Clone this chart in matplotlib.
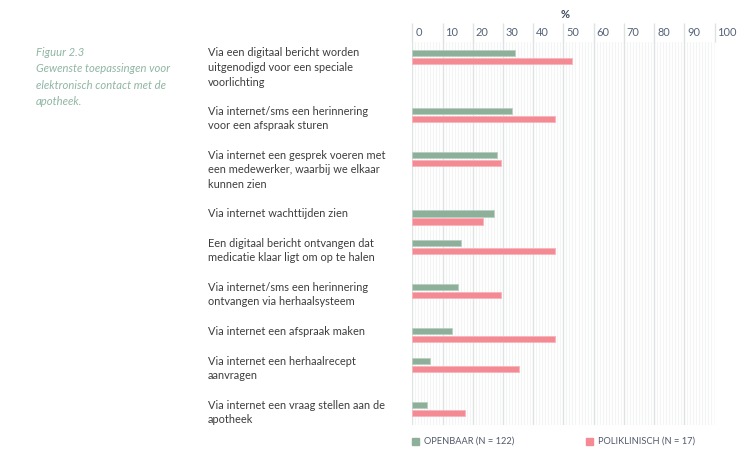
import matplotlib
matplotlib.use("Agg")
import matplotlib.pyplot as plt
from matplotlib.patches import Rectangle
from matplotlib import transforms
import numpy as np

# data
labels = [
    "Via een digitaal bericht worden\nuitgenodigd voor een speciale\nvoorlichting",
    "Via internet/sms een herinnering\nvoor een afspraak sturen",
    "Via internet een gesprek voeren met\neen medewerker, waarbij we elkaar\nkunnen zien",
    "Via internet wachttijden zien",
    "Een digitaal bericht ontvangen dat\nmedicatie klaar ligt om op te halen",
    "Via internet/sms een herinnering\nontvangen via herhaalsysteem",
    "Via internet een afspraak maken",
    "Via internet een herhaalrecept\naanvragen",
    "Via internet een vraag stellen aan de\napotheek",
]
openbaar = [34, 33, 28, 27, 16, 15, 13, 6, 5]
poliklinisch = [52.9, 47.1, 29.4, 23.5, 47.1, 29.4, 47.1, 35.3, 17.6]
ticks = list(range(0, 101, 10))
caption = "Figuur 2.3\nGewenste toepassingen voor\nelektronisch contact met de\napotheek."
legend_labels = ["OPENBAAR (N = 122)", "POLIKLINISCH (N = 17)"]

GREEN = "#8eb09a"
PINK = "#f48a94"
TEXT = "#3d3d3d"
TICK = "#55627a"
MAJOR = "#dfe2e2"
MINOR = "#f3f4f4"

W, H = 752, 462
fig = plt.figure(figsize=(W / 100, H / 100), dpi=100)
plt.rcParams["font.family"] = ["Lato", "DejaVu Sans"]

def fx(px):
    return px / W

def fy(py):
    return 1 - py / H

ax_left, ax_right, ax_top, ax_bot = 412.3, 714.5, 42, 425
ax = fig.add_axes([fx(ax_left), fy(ax_bot), fx(ax_right - ax_left), (ax_bot - ax_top) / H])

# group positions in "line" units, spaced by number of text lines
line_px = 14.2
gap = 1.1
pos = []
y = 11 / line_px
for lab in labels:
    pos.append(y)
    y += lab.count("\n") + 1 + gap
pos = np.array(pos)
off = 8 / line_px
bh = 6.3 / line_px

ax.barh(pos, openbaar, height=bh, color=GREEN, edgecolor="#b9cfc0", linewidth=0.6, zorder=3)
ax.barh(pos + off, poliklinisch, height=bh, color=PINK, edgecolor="#f8b5ba", linewidth=0.6, zorder=3)

ax.set_xlim(0, 100)
ax.set_ylim((ax_bot - ax_top) / line_px, 0)
for v in np.arange(0, 101, 1):
    if v % 10 == 0:
        continue
    ax.axvline(v, color=MINOR, lw=0.8, zorder=1)
for v in ticks:
    ax.axvline(v, color=MAJOR, lw=1.0, zorder=2)
for s in ax.spines.values():
    s.set_visible(False)
ax.set_yticks([])
ax.set_xticks(ticks)
ax.tick_params(axis="x", bottom=False, labelbottom=False, top=True, labeltop=False,
               length=14, width=1.0, color=MAJOR, direction="out")

# tick labels to the right of the tick lines
tt = transforms.blended_transform_factory(ax.transData, fig.transFigure)
for v in ticks:
    ax.text(v, fy(33), str(v), transform=transforms.offset_copy(tt, fig=fig, x=3, units="dots"),
            ha="left", va="center", fontsize=7.9, color=TICK)
fig.text(fx(565), fy(15), "%", ha="center", va="center", fontsize=8, fontweight="bold", color="#3e4a5e")

# category labels
lt = transforms.blended_transform_factory(fig.transFigure, ax.transData)
for p, lab in zip(pos, labels):
    ax.text(fx(208), p, lab, transform=transforms.offset_copy(lt, fig=fig, y=5.5, units="dots"),
            ha="left", va="top", fontsize=7.95, color=TEXT, linespacing=1.4)

# caption
fig.text(fx(36), fy(46.5), caption, ha="left", va="top", fontsize=8.1, style="italic",
         color="#8fb6a2", linespacing=1.62)

# legend
for x0, col, lab in [(412, GREEN, legend_labels[0]), (586, PINK, legend_labels[1])]:
    fig.patches.append(Rectangle((fx(x0), fy(445)), 7 / W, 7 / H, transform=fig.transFigure,
                                 color=col, figure=fig))
    fig.text(fx(x0 + 12), fy(441.5), lab, ha="left", va="center", fontsize=6.7, color="#50586a")

fig.savefig("out.png", dpi=100)
